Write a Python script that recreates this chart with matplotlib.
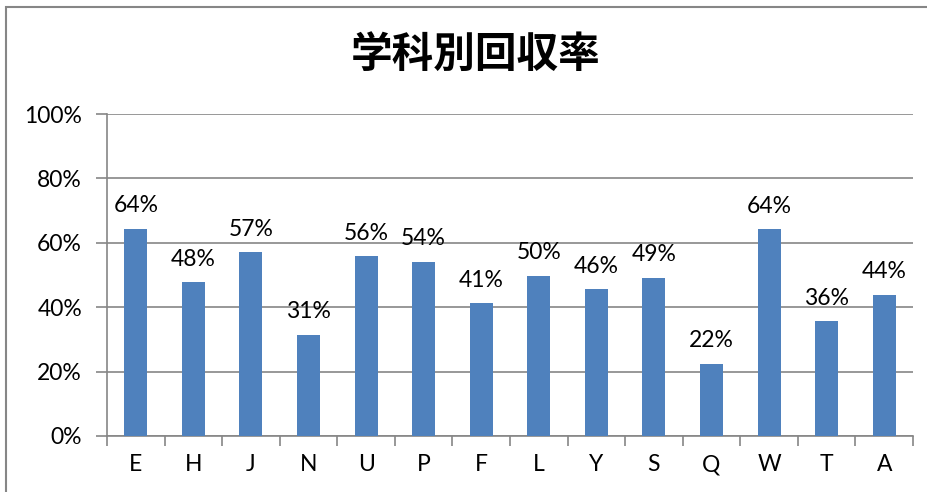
import matplotlib as mpl
mpl.use('Agg')
from matplotlib import pyplot as plt
from matplotlib.patches import Rectangle
import numpy as np

plt.rcParams['font.family'] = ['Lato', 'Noto Sans CJK JP', 'DejaVu Sans']

# 学科別回収率
departments = ['E', 'H', 'J', 'N', 'U', 'P', 'F', 'L', 'Y', 'S', 'Q', 'W', 'T', 'A']
rates = np.array([0.644, 0.477, 0.571, 0.314, 0.559, 0.541, 0.413,
                  0.497, 0.456, 0.492, 0.224, 0.642, 0.356, 0.439])
yticks = [0.0, 0.2, 0.4, 0.6, 0.8, 1.0]
title = '学科別回収率'

grey = '#868686'
bar_color = '#4F81BD'

fig = plt.figure(figsize=(9.28, 4.92), dpi=100, facecolor='w')
# outer chart frame (right/bottom edges fall outside the image)
fig.patches.append(Rectangle((6/928, -0.1), 1.1, 1.1 - 7/492,
                             transform=fig.transFigure, fill=False,
                             edgecolor=grey, linewidth=1.5))

ax = fig.add_axes([107/928, 1-436/492, 806/928, 322/492])
x = np.arange(len(departments))
ax.bar(x, rates, width=0.4, color=bar_color, zorder=3)

for xi, r in zip(x, rates):
    ax.annotate('%d%%' % round(r*100), (xi, r), xytext=(0, 9),
                textcoords='offset points', ha='center', va='bottom',
                fontsize=16.5, color='black')

ax.set_xlim(-0.5, len(departments)-0.5)
ax.set_ylim(0, 1.0)
ax.set_yticks(yticks)
ax.set_yticklabels(['%d%%' % round(t*100) for t in yticks], fontsize=16.5)
ax.set_xticks(x)
ax.set_xticklabels(departments, fontsize=16.5)
ax.set_xticks(np.arange(-0.5, len(departments)), minor=True)
ax.tick_params(axis='x', which='major', length=0, pad=13)
ax.tick_params(axis='x', which='minor', length=7, color=grey, width=1.2)
ax.tick_params(axis='y', which='major', length=8, color=grey, width=1.2, pad=10)

ax.grid(axis='y', color=grey, linewidth=1.2, zorder=0)
for side in ['top', 'right']:
    ax.spines[side].set_visible(False)
for side in ['left', 'bottom']:
    ax.spines[side].set_color(grey)
    ax.spines[side].set_linewidth(1.2)

fig.text(476/928, 1-55/492, title, ha='center', va='center', fontsize=30,
         fontweight='bold', family=['Noto Sans CJK JP', 'DejaVu Sans'])

plt.savefig('out.png', dpi=100)
